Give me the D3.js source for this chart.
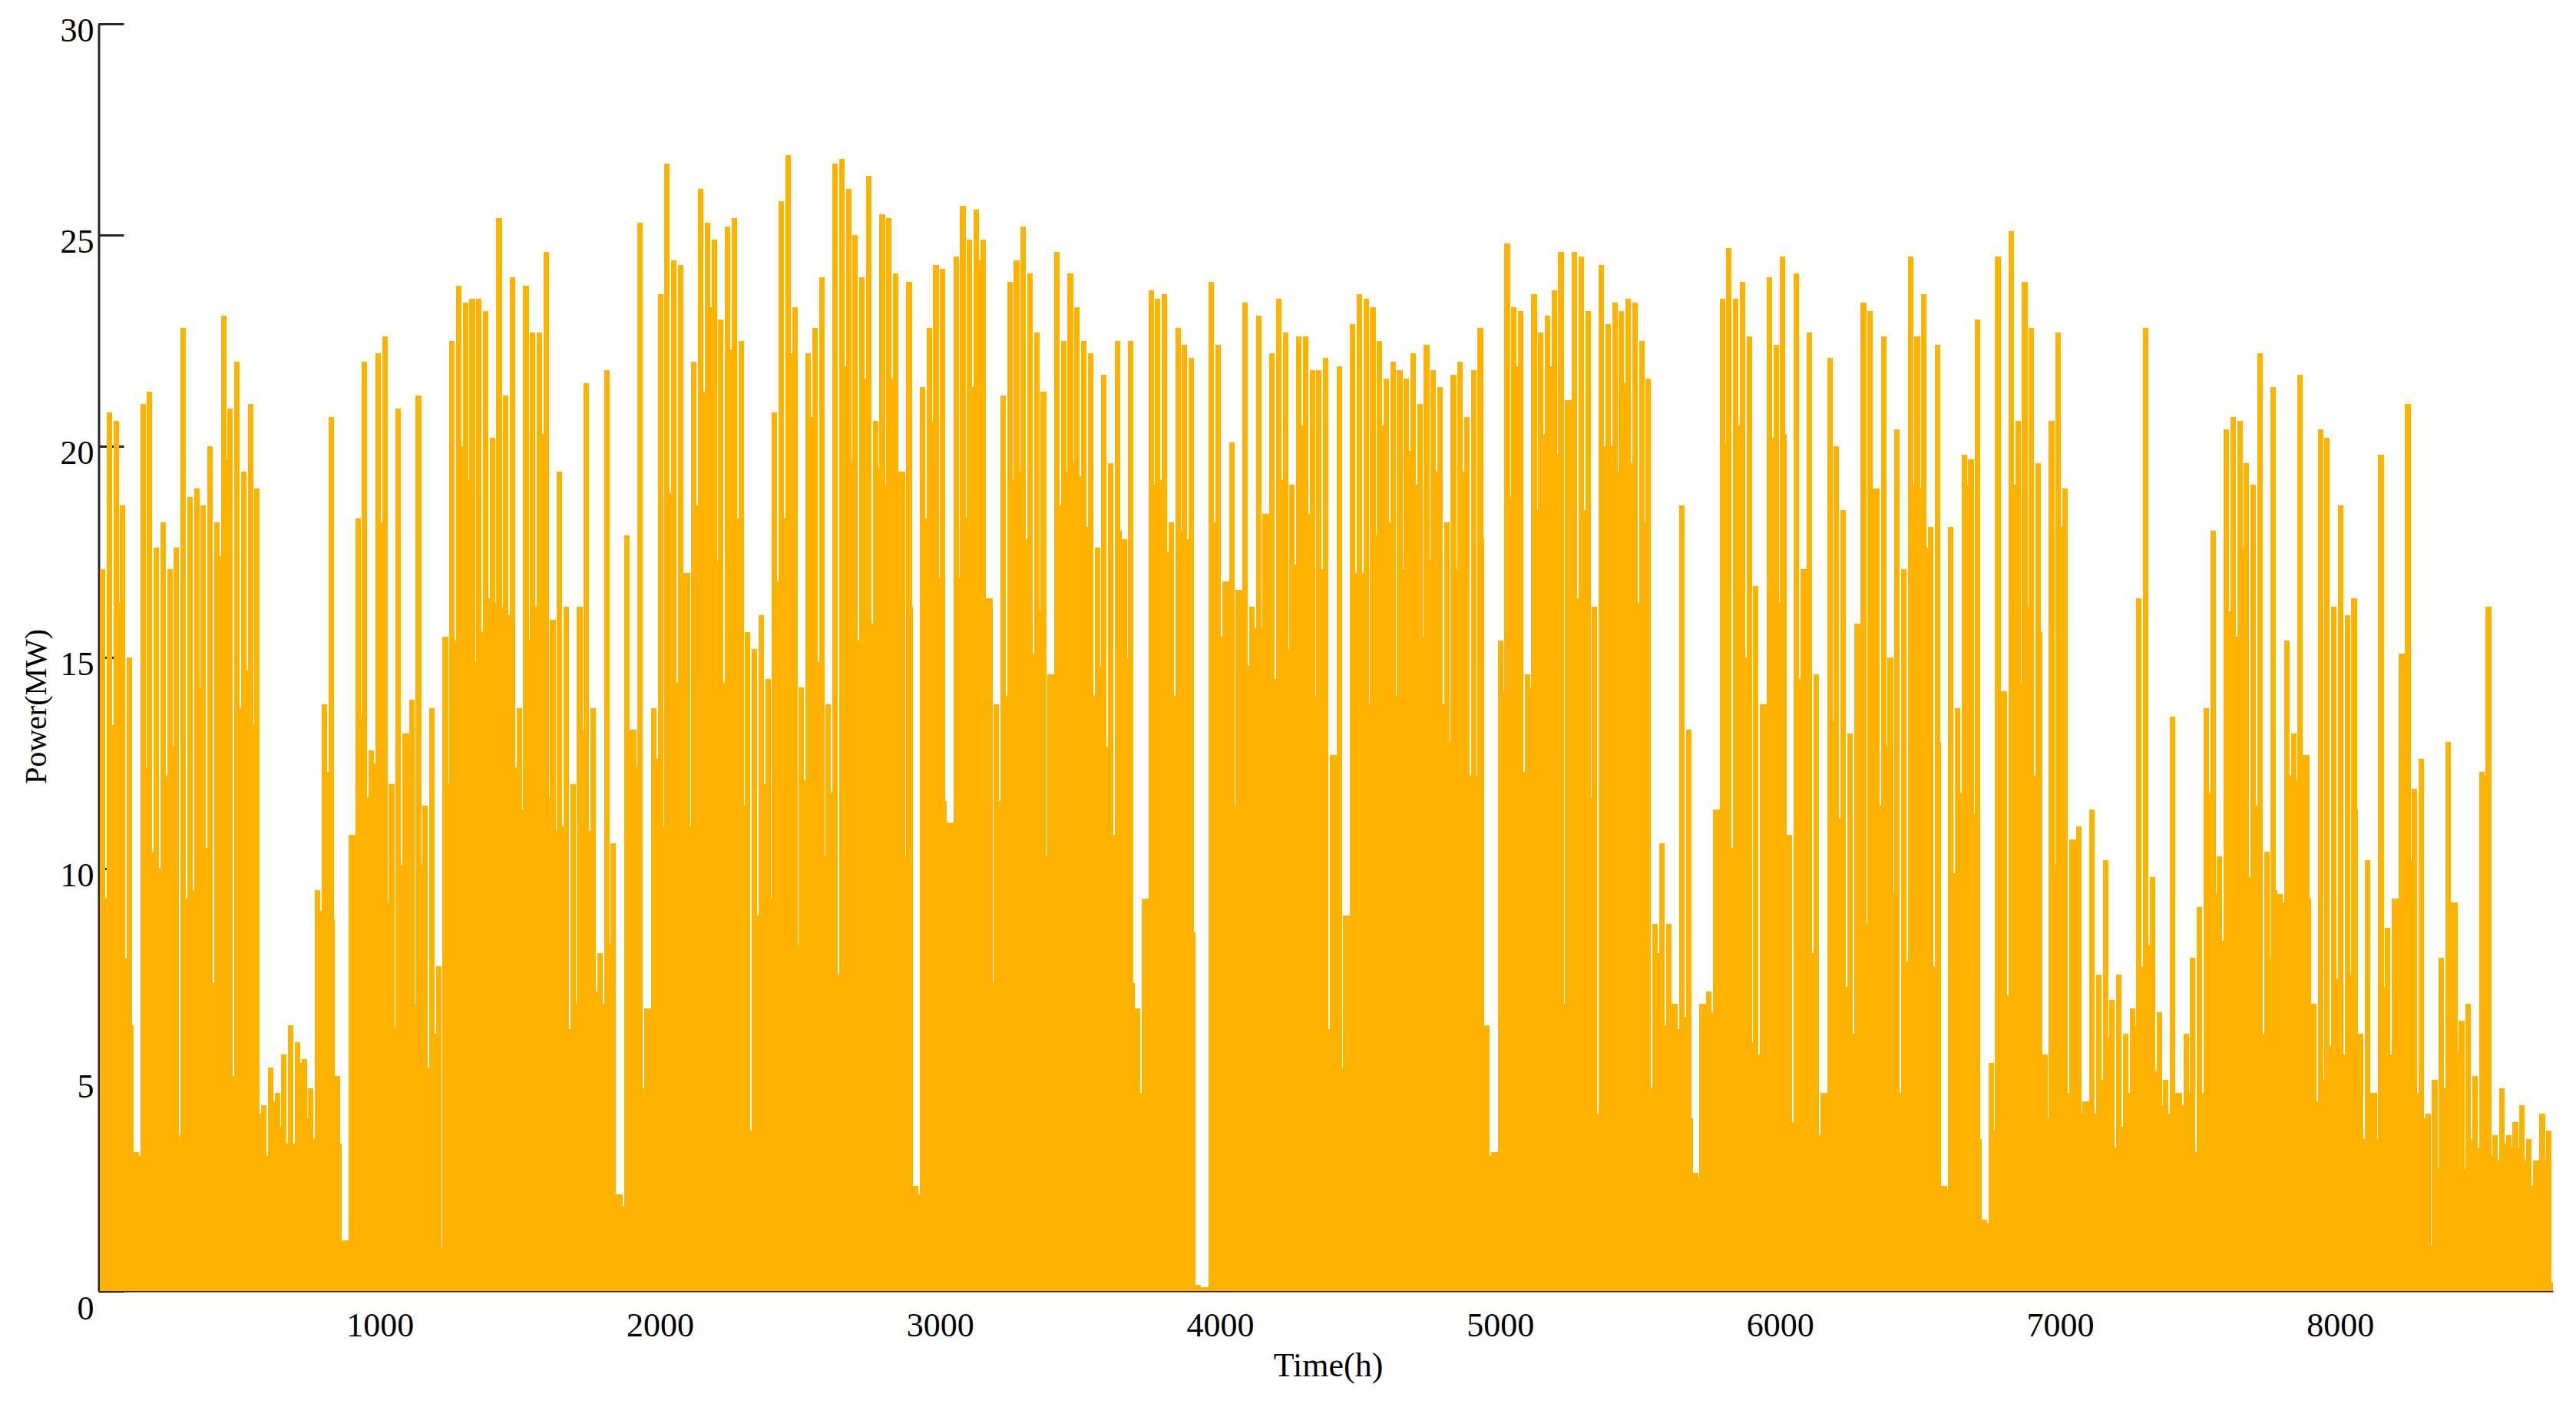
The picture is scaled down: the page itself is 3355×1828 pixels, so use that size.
<!DOCTYPE html>
<html>
<head>
<meta charset="utf-8">
<script src="https://cdn.jsdelivr.net/npm/d3@7"></script>
<style>
  html, body { margin: 0; padding: 0; background: #fff; }
</style>
</head>
<body>
<div class="chart-container"></div>
<script>
// daily maximum of the hourly power (MW), one value per day
const dayPeak = [
  17.1, 20.8, 20.6, 18.6, 15.0, 3.3, 21.0, 21.3, 17.6, 18.2,
  17.1, 17.6, 22.8, 18.8, 19.0, 18.6, 20.0, 18.2, 23.1, 20.9,
  22.0, 19.4, 21.0, 19.0, 4.4, 5.3, 4.7, 5.6, 6.3, 5.9,
  5.5, 4.8, 9.5, 13.9, 20.7, 5.1, 1.2, 10.8, 18.3, 22.0,
  12.8, 22.2, 22.6, 12.0, 20.9, 13.2, 14.0, 21.2, 11.5, 13.8,
  7.7, 15.5, 22.5, 23.8, 23.4, 23.5, 23.5, 23.2, 20.2, 25.4,
  21.2, 24.0, 13.8, 23.8, 22.7, 22.7, 24.6, 15.9, 19.4, 16.2,
  12.0, 16.2, 21.5, 13.8, 8.0, 21.8, 10.6, 2.3, 17.9, 13.3,
  25.3, 6.7, 13.8, 23.6, 26.7, 24.4, 24.3, 17.0, 22.0, 26.1,
  25.3, 24.9, 23.0, 25.2, 25.4, 22.5, 15.6, 15.2, 16.0, 14.5,
  20.8, 25.8, 26.9, 23.3, 14.3, 22.2, 22.8, 24.0, 13.9, 26.7,
  26.8, 26.1, 25.0, 24.0, 26.4, 20.6, 25.5, 25.4, 24.1, 19.4,
  23.9, 2.5, 21.4, 22.8, 24.3, 24.2, 11.1, 24.5, 25.7, 24.9,
  25.6, 24.9, 16.4, 13.9, 21.2, 23.9, 24.4, 25.2, 24.1, 22.7,
  21.3, 14.6, 24.6, 22.5, 24.1, 23.3, 22.5, 22.2, 17.6, 21.7,
  19.6, 22.5, 17.8, 22.5, 6.7, 9.3, 23.7, 23.5, 23.6, 18.2,
  22.8, 22.4, 22.1, 0.15, 0.1, 23.9, 22.4, 16.8, 20.1, 16.6,
  23.4, 16.2, 23.1, 18.4, 22.2, 23.5, 22.7, 19.1, 22.6, 22.6,
  21.8, 21.8, 22.1, 12.7, 21.9, 8.9, 22.9, 23.6, 23.5, 23.3,
  22.5, 21.6, 22.0, 21.8, 21.6, 22.2, 21.0, 22.4, 21.8, 21.4,
  18.2, 21.7, 22.0, 20.7, 21.8, 22.8, 6.3, 3.3, 15.4, 24.8,
  23.3, 23.2, 14.6, 23.6, 22.7, 23.1, 23.7, 24.6, 21.1, 24.6,
  24.5, 23.2, 16.2, 24.3, 22.9, 23.4, 23.2, 23.5, 23.4, 22.5,
  21.6, 8.7, 10.6, 8.7, 6.8, 18.6, 13.3, 2.8, 6.8, 7.1,
  11.4, 23.5, 24.7, 23.5, 23.9, 22.6, 16.7, 13.9, 24.0, 22.4,
  24.5, 10.8, 24.1, 17.1, 22.7, 14.6, 4.7, 22.1, 20.0, 18.5,
  13.2, 15.8, 23.4, 23.2, 19.0, 22.6, 15.0, 20.4, 17.1, 24.5,
  22.6, 23.6, 18.1, 22.4, 2.5, 18.1, 13.8, 19.8, 19.7, 23.0,
  1.7, 5.4, 24.5, 14.2, 25.1, 20.6, 23.9, 22.8, 19.6, 5.6,
  20.6, 22.7, 19.0, 10.7, 11.0, 4.5, 11.4, 7.5, 10.2, 6.9,
  7.5, 6.1, 6.7, 16.4, 22.8, 9.8, 6.6, 5.0, 13.6, 4.7,
  6.1, 7.9, 9.1, 13.8, 18.0, 10.3, 20.4, 20.7, 20.6, 19.6,
  19.1, 22.2, 10.4, 21.4, 9.4, 15.4, 13.2, 21.7, 12.7, 6.8,
  20.4, 20.2, 16.2, 18.6, 16.0, 16.4, 6.1, 10.2, 4.7, 19.8,
  8.6, 9.3, 15.1, 21.0, 11.9, 12.6, 4.2, 5.0, 7.9, 13.0,
  9.2, 6.4, 6.8, 5.1, 12.3, 16.2, 3.7, 4.8, 3.7, 4.0,
  4.4, 3.6, 3.1, 4.2, 3.8
];

// lowest value reached at the end of each day, before the next day's rise
const dayLow = [
  9.3, 13.4, 16.3, 7.9, 6.3, 3.2, 12.4, 10.4, 10.0, 12.2,
  12.9, 3.7, 9.3, 9.5, 14.3, 10.5, 7.3, 17.4, 19.7, 5.1,
  13.8, 14.7, 13.4, 4.2, 3.2, 4.5, 3.9, 3.5, 3.5, 5.4,
  4.1, 3.6, 9.0, 12.3, 8.8, 3.5, 1.2, 10.8, 13.6, 11.7,
  12.5, 18.2, 9.2, 6.2, 10.1, 13.2, 6.8, 10.1, 5.3, 6.1,
  1.0, 12.0, 15.4, 20.0, 19.2, 14.9, 15.6, 16.4, 16.3, 16.2,
  16.0, 12.4, 11.4, 15.4, 16.2, 20.3, 11.7, 10.9, 11.0, 6.2,
  6.8, 13.3, 10.9, 7.1, 6.8, 8.2, 2.3, 2.0, 13.3, 12.4,
  4.8, 6.7, 12.6, 11.0, 18.9, 14.4, 17.0, 11.0, 18.6, 21.3,
  23.3, 17.3, 14.4, 22.3, 18.3, 11.5, 3.8, 8.9, 12.0, 9.3,
  16.8, 18.3, 22.2, 8.2, 12.1, 20.7, 14.9, 10.3, 11.8, 7.5,
  21.9, 19.6, 15.4, 21.6, 15.8, 19.5, 19.1, 21.6, 19.4, 10.3,
  16.2, 2.3, 18.3, 20.6, 16.9, 11.6, 11.1, 16.9, 18.3, 21.4,
  24.4, 16.4, 7.3, 11.6, 14.1, 19.2, 19.4, 17.8, 15.1, 16.1,
  10.3, 14.6, 18.6, 19.4, 19.6, 19.3, 18.1, 14.1, 14.8, 12.9,
  10.8, 18.0, 15.0, 7.3, 4.7, 9.3, 19.1, 19.2, 17.5, 14.1,
  18.0, 17.8, 8.5, 0.1, 0.1, 18.2, 15.5, 16.8, 11.5, 16.6,
  14.8, 15.7, 15.7, 18.4, 14.5, 19.2, 15.2, 17.2, 20.5, 18.4,
  14.1, 17.1, 6.2, 12.7, 5.3, 8.9, 17.0, 17.0, 13.9, 17.9,
  20.5, 18.2, 14.1, 17.1, 19.9, 19.1, 15.5, 17.3, 19.4, 13.9,
  13.0, 17.1, 19.4, 12.2, 12.2, 17.8, 3.2, 3.3, 14.2, 18.8,
  21.9, 12.3, 14.3, 18.5, 20.3, 21.9, 19.8, 6.8, 21.1, 16.4,
  18.5, 11.7, 4.2, 20.0, 20.0, 19.4, 21.5, 19.6, 16.3, 18.2,
  4.8, 8.0, 6.3, 6.8, 6.2, 6.5, 4.1, 2.7, 6.8, 6.6,
  11.4, 20.1, 10.5, 20.5, 15.0, 5.9, 5.6, 13.9, 20.2, 16.3,
  20.3, 4.0, 14.5, 17.1, 8.0, 3.7, 4.7, 13.5, 11.2, 7.2,
  6.1, 15.8, 8.7, 19.0, 11.5, 12.9, 9.4, 4.7, 7.8, 19.1,
  19.0, 17.6, 7.7, 13.0, 2.4, 9.9, 11.8, 19.1, 11.3, 3.6,
  1.6, 3.8, 14.2, 7.0, 19.1, 14.4, 16.2, 12.2, 15.6, 4.1,
  10.1, 18.1, 4.7, 10.7, 4.2, 4.5, 4.2, 5.0, 6.0, 3.4,
  3.9, 4.7, 6.3, 7.7, 8.2, 5.2, 4.4, 4.2, 4.7, 4.4,
  4.7, 3.3, 4.7, 11.8, 9.4, 8.3, 16.1, 15.5, 17.6, 9.8,
  11.5, 6.1, 7.9, 9.5, 9.2, 12.2, 12.1, 12.7, 9.3, 4.5,
  5.0, 5.8, 7.4, 5.6, 7.5, 11.4, 3.6, 4.7, 3.6, 7.2,
  5.6, 9.3, 15.1, 10.2, 4.7, 4.1, 1.1, 2.9, 4.8, 9.2,
  5.7, 2.9, 3.6, 3.4, 12.2, 3.2, 3.1, 3.5, 3.4, 3.4,
  3.1, 2.5, 3.1, 3.1, 0.2
];

const xTicks = [1000, 2000, 3000, 4000, 5000, 6000, 7000, 8000];
const yTicks = [0, 5, 10, 15, 20, 25, 30];
const totalHours = 8760;

const W = 3355, H = 1828;
const margin = {left: 130, right: 3325, top: 31, bottom: 1681};
const font = "'Liberation Serif', 'Times New Roman', serif";
const orange = '#FFB300';

const svg = d3.select('.chart-container')
    .append('svg')
    .attr('width', W)
    .attr('height', H)
    .style('background', '#fff');

const xScale = d3.scaleLinear().domain([0, totalHours]).range([margin.left, margin.right]);
const yScale = d3.scaleLinear().domain([0, 30]).range([margin.bottom, margin.top]);

// each day: a plateau at the daily peak, then a short dip to the low
const series = [];
dayPeak.forEach((p, i) => {
    series.push({h: i * 24, v: p});
    series.push({h: i * 24 + 19.5, v: dayLow[i]});
});
series.push({h: totalHours, v: dayLow[dayLow.length - 1]});

// x axis (line sits under the data)
svg.append('g')
    .attr('transform', `translate(0,${margin.bottom})`)
    .call(d3.axisBottom(xScale).tickValues(xTicks).tickFormat(d3.format('d'))
        .tickSize(0).tickPadding(28).tickSizeOuter(0))
    .call(g => g.select('.domain').attr('stroke', '#262626').attr('stroke-width', 2))
    .call(g => g.selectAll('text')
        .attr('font-family', font)
        .attr('font-size', 44)
        .attr('fill', '#000'));

// y axis, ticks pointing inward
svg.append('g')
    .attr('transform', `translate(${margin.left - 1.5},0)`)
    .call(d3.axisLeft(yScale).tickValues(yTicks).tickFormat(d3.format('d'))
        .tickSizeInner(-33).tickSizeOuter(0).tickPadding(6))
    .call(g => g.select('.domain').attr('stroke', '#262626').attr('stroke-width', 3))
    .call(g => g.selectAll('.tick line').attr('stroke', '#262626').attr('stroke-width', 3))
    .call(g => g.selectAll('text')
        .attr('font-family', font)
        .attr('font-size', 44)
        .attr('fill', '#000')
        .attr('dy', d => d === 0 ? '0.82em' : '0.52em'));

const area = d3.area()
    .curve(d3.curveStepAfter)
    .x(d => xScale(d.h))
    .y0(yScale(0))
    .y1(d => yScale(d.v));

svg.append('path')
    .datum(series)
    .attr('d', area)
    .attr('fill', orange)
    .attr('shape-rendering', 'crispEdges');

// axis titles
svg.append('text')
    .attr('x', 1730)
    .attr('y', 1792)
    .attr('text-anchor', 'middle')
    .attr('font-family', font)
    .attr('font-size', 44)
    .text('Time(h)');

svg.append('text')
    .attr('transform', 'translate(46,920) rotate(-90)')
    .attr('text-anchor', 'middle')
    .attr('dy', '0.35em')
    .attr('font-family', font)
    .attr('font-size', 40)
    .text('Power(MW)');
</script>
</body>
</html>
